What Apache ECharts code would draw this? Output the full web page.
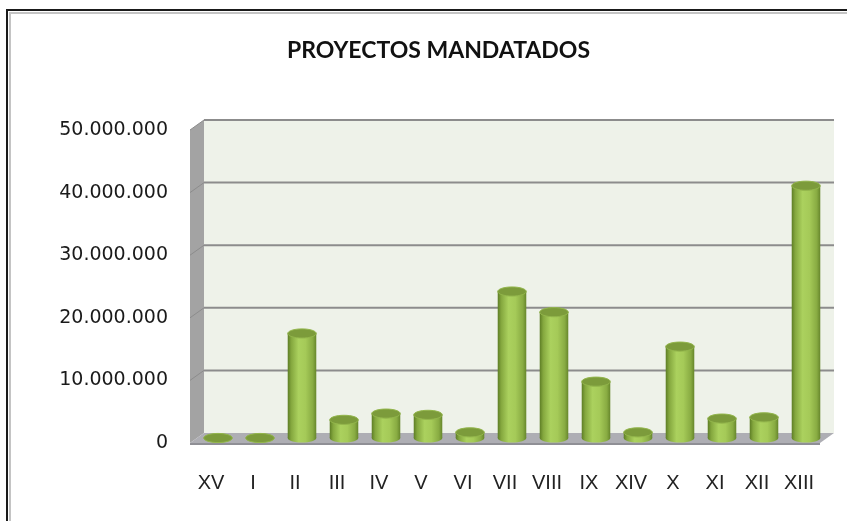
<!DOCTYPE html>
<html><head><meta charset="utf-8">
<script src="https://cdn.jsdelivr.net/npm/echarts@6/dist/echarts.min.js"></script>
<style>html,body{margin:0;padding:0;background:#fff}#c{width:847px;height:521px}</style>
</head><body><div id="c"></div>
<script>
var categories = ['XV','I','II','III','IV','V','VI','VII','VIII','IX','XIV','X','XI','XII','XIII'];
var values = [0, 0, 16700000, 2900000, 3900000, 3700000, 900000, 23400000, 20100000, 9000000, 900000, 14600000, 3100000, 3300000, 40300000];
var yTicks = [0, 10000000, 20000000, 30000000, 40000000, 50000000];
var titleText = 'PROYECTOS MANDATADOS';

var DX = 14, DY = -10;
function fmt(v){ return String(v).replace(/\B(?=(\d{3})+(?!\d))/g, '.'); }

var chart = echarts.init(document.getElementById('c'), null, {renderer:'canvas'});
var option = {
  animation: false,
  backgroundColor: '#ffffff',
  title: {
    text: titleText, left: 282, top: 34,
    textStyle: {fontFamily: 'Lato', fontWeight: 'bold', fontSize: 23, color: '#111'}
  },
  graphic: [
    {type:'rect', shape:{x:7, y:10, width:900, height:600}, style:{fill:'none', stroke:'#1a1a1a', lineWidth:2}, z:100},
    {type:'rect', shape:{x:10, y:13, width:900, height:600}, style:{fill:'none', stroke:'#c4c4c4', lineWidth:2}, z:100}
  ],
  grid: {left: 190, top: 130, width: 630, height: 313, containLabel: false},
  xAxis: {
    type: 'category', data: categories,
    axisLine: {show:false}, axisTick: {show:false},
    axisLabel: {margin: 30, fontFamily: 'Liberation Sans', fontSize: 20, color: '#222'}
  },
  yAxis: {
    type: 'value', min: 0, max: 50000000, interval: 10000000,
    axisLine: {show:false}, axisTick: {show:false}, splitLine: {show:false},
    axisLabel: {margin: 22, fontFamily: 'DejaVu Sans', fontSize: 19, color: '#1a1a1a', formatter: fmt}
  },
  series: [
    {
      type: 'custom', z: 1, silent: true,
      data: [[0, 0]],
      renderItem: function(params, api){
        var cs = params.coordSys;
        var x0 = cs.x, x1 = cs.x + cs.width;
        var yb = api.coord([0, 0])[1];
        var yt = api.coord([0, 50000000])[1];
        var ch = [];
        ch.push({type:'rect', shape:{x:x0+DX, y:yt+DY, width:x1-x0, height:yb-yt}, style:{fill:'#eef2e9'}});
        ch.push({type:'polygon', shape:{points:[[x0,yt],[x0+DX,yt+DY],[x0+DX,yb+DY],[x0,yb]]}, style:{fill:'#a3a3a3'}});
        ch.push({type:'polygon', shape:{points:[[x0,yb],[x1,yb],[x1+DX,yb+DY],[x0+DX,yb+DY]]}, style:{fill:'#aeaeb4'}});
        ch.push({type:'line', shape:{x1:x0, y1:yb+1, x2:x1, y2:yb+1}, style:{stroke:'#8f8f95', lineWidth:2}});
        for (var i = 1; i < yTicks.length; i++){
          var y = api.coord([0, yTicks[i]])[1];
          ch.push({type:'line', shape:{x1:x0+DX, y1:y+DY, x2:x1+DX, y2:y+DY}, style:{stroke:'#8c8c8c', lineWidth:2}});
          ch.push({type:'line', shape:{x1:x0, y1:y, x2:x0+DX, y2:y+DY}, style:{stroke:'#8c8c8c', lineWidth:1}});
        }
        return {type:'group', children: ch};
      }
    },
    {
      type: 'custom', z: 2, silent: true,
      data: values.map(function(v, i){ return [i, v]; }),
      renderItem: function(params, api){
        var idx = api.value(0), v = api.value(1);
        var top = api.coord([idx, v]);
        var base = api.coord([idx, 0]);
        var w = api.size([1, 0])[0] * 0.68;
        var cx = top[0] + DX/2;
        var ty = top[1] + DY/2, by = base[1] + DY/2;
        var rx = w/2, ry = w*0.16;
        var grad = {type:'linear', x:0, y:0, x2:1, y2:0, colorStops:[
          {offset:0, color:'#5d7d25'}, {offset:0.12, color:'#84a73e'}, {offset:0.38, color:'#abd15e'},
          {offset:0.62, color:'#a5ca58'}, {offset:0.88, color:'#88ab42'}, {offset:1, color:'#66862b'}]};
        return {type:'group', children:[
          {type:'ellipse', shape:{cx:cx, cy:by, rx:rx, ry:ry}, style:{fill:grad}},
          {type:'rect', shape:{x:cx-rx, y:ty, width:w, height:Math.max(0, by-ty)}, style:{fill:grad}},
          {type:'ellipse', shape:{cx:cx, cy:ty, rx:rx, ry:ry}, style:{fill:'#7c9b3b', stroke:'#93b64c', lineWidth:1}}
        ]};
      }
    }
  ]
};
chart.setOption(option);
</script></body></html>
